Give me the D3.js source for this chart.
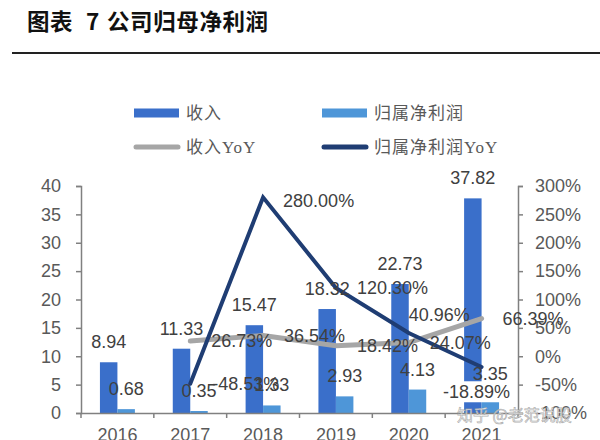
<!DOCTYPE html>
<html>
<head>
<meta charset="utf-8">
<script src="https://cdn.jsdelivr.net/npm/d3@7"></script>
<style>
  html, body { margin: 0; padding: 0; background: #fff; }
  svg { display: block; }
</style>
</head>
<body>
<svg id="chart" width="600" height="440"></svg>
<script>
// ---- data ----
const years = ["2016", "2017", "2018", "2019", "2020", "2021"];
const revenue = [8.94, 11.33, 15.47, 18.32, 22.73, 37.82];
const netProfit = [0.68, 0.35, 1.33, 2.93, 4.13, 3.35];
const revenueYoY = [null, 26.73, 36.54, 18.42, 24.07, 66.39];
const profitYoY = [null, -48.53, 280.00, 120.30, 40.96, -18.89];
const leftTicks = [0, 5, 10, 15, 20, 25, 30, 35, 40];
const rightTicks = [-100, -50, 0, 50, 100, 150, 200, 250, 300];
const seriesNames = ["收入", "归属净利润", "收入YoY", "归属净利润YoY"];
const titleParts = ["图表", "7", "公司归母净利润"];
const watermarkText = "知乎 @老范说股";

// ---- layout / style ----
const svg = d3.select("#chart");
const plot = { left: 81, right: 518, top: 186, bottom: 413 };
const colors = { rev: "#3a6fca", profit: "#4e96d8", revYoY: "#a6a6a6", profitYoY: "#1f3d73" };
const numFont = "'Liberation Sans', Arial, sans-serif";
const labelColor = "#404040";
const axisColor = "#808080";

// title
const title = svg.append("text").attr("y", 30)
  .attr("font-family", "'Noto Sans CJK SC', sans-serif").attr("font-weight", "bold")
  .attr("font-size", 22.5).attr("fill", "#111").attr("letter-spacing", 0.6);
title.append("tspan").attr("x", 27).text(titleParts[0]);
title.append("tspan").attr("x", 86).text(titleParts[1]);
title.append("tspan").attr("x", 107).text(titleParts[2]);
svg.append("line").attr("x1", 12).attr("x2", 600).attr("y1", 53).attr("y2", 53)
  .attr("stroke", "#222").attr("stroke-width", 2);

// scales
const x = d3.scaleBand().domain(years).range([plot.left, plot.right]).padding(0);
const yL = d3.scaleLinear().domain([0, 40]).range([plot.bottom, plot.top]);
const yR = d3.scaleLinear().domain([-100, 300]).range([plot.bottom, plot.top]);
const barW = x.bandwidth() * 0.24;
const cx = d => x(d) + x.bandwidth() / 2;

// bars
const gBars = svg.append("g");
gBars.selectAll("rect.rev").data(years).join("rect")
  .attr("x", d => cx(d) - barW).attr("width", barW)
  .attr("y", (d, i) => yL(revenue[i])).attr("height", (d, i) => yL(0) - yL(revenue[i]))
  .attr("fill", colors.rev);
gBars.selectAll("rect.pro").data(years).join("rect")
  .attr("x", d => cx(d)).attr("width", barW)
  .attr("y", (d, i) => yL(netProfit[i])).attr("height", (d, i) => yL(0) - yL(netProfit[i]))
  .attr("fill", colors.profit);

// axes
const axL = svg.append("g").attr("transform", `translate(${plot.left},0)`)
  .call(d3.axisLeft(yL).tickValues(leftTicks).tickSize(5).tickPadding(15));
const axR = svg.append("g").attr("transform", `translate(${plot.right},0)`)
  .call(d3.axisRight(yR).tickValues(rightTicks).tickSize(5).tickPadding(12).tickFormat(d => d + "%"));
const axB = svg.append("g").attr("transform", `translate(0,${plot.bottom})`)
  .call(d3.axisBottom(x).tickSize(0).tickPadding(15));
// boundary ticks on x axis
const bounds = years.map(d => x(d)).concat([plot.right]);
axB.selectAll("line.bt").data(bounds).join("line").attr("class", "bt")
  .attr("x1", d => d).attr("x2", d => d).attr("y1", 0).attr("y2", 5);
[axL, axR, axB].forEach(g => {
  g.selectAll("path.domain").attr("stroke", axisColor).attr("stroke-width", 1.5);
  g.selectAll("line").attr("stroke", axisColor).attr("stroke-width", 1.5);
  g.selectAll("text").attr("font-family", numFont).attr("font-size", 18).attr("fill", "#595959");
});

// lines
const lineData = (arr) => years.map((d, i) => ({ x: cx(d), v: arr[i] })).filter(p => p.v !== null);
const line = d3.line().x(p => p.x).y(p => yR(p.v)).curve(d3.curveLinear);
svg.append("path").datum(lineData(revenueYoY)).attr("d", line)
  .attr("fill", "none").attr("stroke", colors.revYoY).attr("stroke-width", 5)
  .attr("stroke-linecap", "round").attr("stroke-linejoin", "round");
svg.append("path").datum(lineData(profitYoY)).attr("d", line)
  .attr("fill", "none").attr("stroke", colors.profitYoY).attr("stroke-width", 4)
  .attr("stroke-linecap", "round").attr("stroke-linejoin", "miter").attr("stroke-miterlimit", 10);

// labels
const gLab = svg.append("g").attr("font-family", numFont).attr("font-size", 18).attr("fill", labelColor);
years.forEach((d, i) => {
  gLab.append("text").attr("x", cx(d) - barW / 2).attr("y", yL(revenue[i]) - 14)
    .attr("text-anchor", "middle").text(revenue[i].toFixed(2));
  gLab.append("text").attr("x", cx(d) + barW / 2).attr("y", yL(netProfit[i]) - 14)
    .attr("text-anchor", "middle").text(netProfit[i].toFixed(2));
});
const fmtPct = v => v.toFixed(2) + "%";
years.forEach((d, i) => {
  if (revenueYoY[i] === null) return;
  gLab.append("text").attr("x", cx(d) + 21).attr("y", yR(revenueYoY[i]))
    .attr("dy", "0.35em").text(fmtPct(revenueYoY[i]));
});
// placement of profit YoY labels: [dx, dy, anchor, whiteBackground]
const profitPlace = [null, [22, 0, "start"], [20, 3, "start"], [21, 0, "start"], [0, -18, "start"], [-5, 25, "middle", true]];
years.forEach((d, i) => {
  if (profitYoY[i] === null) return;
  const p = profitPlace[i];
  const t = gLab.append("text").attr("x", cx(d) + p[0]).attr("y", yR(profitYoY[i]) + p[1])
    .attr("dy", "0.35em").attr("text-anchor", p[2]).text(fmtPct(profitYoY[i]));
  if (p[3]) {
    const b = t.node().getBBox();
    gLab.insert("rect", () => t.node())
      .attr("x", b.x - 2).attr("y", b.y - 1).attr("width", b.width + 4).attr("height", b.height + 1)
      .attr("fill", "#fff");
  }
});

// legend
const lg = svg.append("g").attr("font-family", "'Liberation Serif', 'Noto Sans CJK SC', serif")
  .attr("font-size", 17).attr("fill", "#595959");
const legendItems = [
  { name: seriesNames[0], type: "rect", color: colors.rev, x: 134, y: 113 },
  { name: seriesNames[1], type: "rect", color: colors.profit, x: 322, y: 113 },
  { name: seriesNames[2], type: "line", color: colors.revYoY, x: 134, y: 147 },
  { name: seriesNames[3], type: "line", color: colors.profitYoY, x: 322, y: 147 }
];
legendItems.forEach(it => {
  if (it.type === "rect") {
    lg.append("rect").attr("x", it.x).attr("y", it.y - 4.5).attr("width", 45).attr("height", 9).attr("fill", it.color);
  } else {
    lg.append("line").attr("x1", it.x + 2).attr("x2", it.x + 44).attr("y1", it.y).attr("y2", it.y)
      .attr("stroke", it.color).attr("stroke-width", 5).attr("stroke-linecap", "round");
  }
  lg.append("text").attr("x", it.x + 52).attr("y", it.y).attr("dy", "0.35em").attr("letter-spacing", 1).text(it.name);
});

// watermark
svg.append("text").attr("x", 457).attr("y", 421)
  .attr("font-family", "'Noto Sans CJK SC', sans-serif").attr("font-size", 16)
  .attr("fill", "#ffffff").attr("fill-opacity", 0.85).attr("stroke", "#9a9a9a").attr("stroke-width", 0.7)
  .attr("stroke-opacity", 0.8).text(watermarkText);
</script>
</body>
</html>
